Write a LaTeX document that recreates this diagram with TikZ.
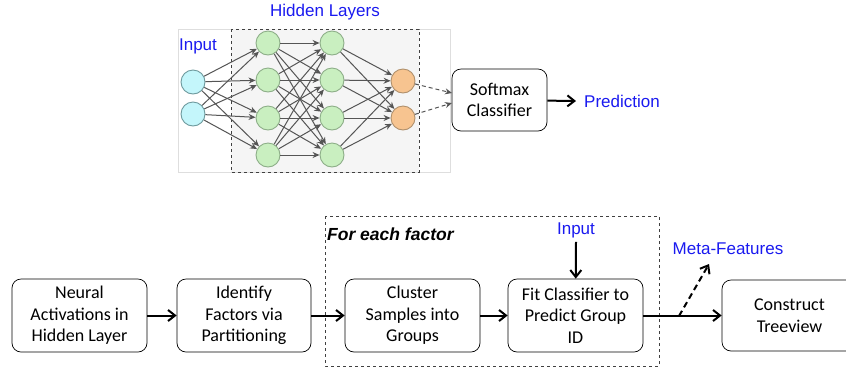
\documentclass[tikz,border=0pt]{standalone}
\usepackage{fontspec}
\setmainfont{Carlito}
\newfontfamily\arialf{Liberation Sans}
\usetikzlibrary{arrows.meta}
\definecolor{lblue}{HTML}{1A1AF0}
\definecolor{cyanf}{HTML}{C4F6FB}
\definecolor{cyand}{HTML}{6E9A9E}
\definecolor{greenf}{HTML}{C9EFC0}
\definecolor{greend}{HTML}{8DAE88}
\definecolor{orangef}{HTML}{F7C490}
\definecolor{oranged}{HTML}{B0906C}
\definecolor{edgec}{HTML}{555555}
\tikzset{
  x=1pt, y=-1pt,
  neuron/.style={circle, minimum size=24pt, inner sep=0pt, line width=0.9pt},
  inneur/.style={neuron, draw=cyand, fill=cyanf},
  hidneur/.style={neuron, draw=greend, fill=greenf},
  outneur/.style={neuron, draw=oranged, fill=orangef},
  nnedge/.style={draw=edgec, line width=1pt, -{Stealth[length=7pt,width=6pt]}},
  nndash/.style={nnedge, dash pattern=on 4pt off 3pt},
  procbox/.style={draw, rounded corners=9pt, line width=0.7pt, align=center,
    font=\fontsize{18}{21.5}\selectfont, inner sep=0pt},
  flow/.style={line width=2pt, -{Straight Barb[length=7pt,width=11pt,line width=2pt]}},
  bluelbl/.style={text=lblue, font=\arialf\fontsize{17}{20}\selectfont, inner sep=0pt},
}
\begin{document}
\begin{tikzpicture}
\useasboundingbox (0,0) rectangle (846,368);
\fill[white] (0,0) rectangle (846,368);
\begin{scope}
\clip (0,0) rectangle (846,368);
% ---- neural net panel
\draw[fill=white, draw=black!13, line width=0.6pt] (178,29) rectangle (450,172);
\draw[fill=black!4, draw=black!75, dashed, line width=0.7pt] (231,29) rectangle (419,172);
\node[inneur] (i1) at (193,82) {};
\node[inneur] (i2) at (193,114) {};
\foreach \j/\y in {1/43,2/80,3/118,4/155}{
  \node[hidneur] (a\j) at (268,\y) {};
  \node[hidneur] (b\j) at (332,\y) {};
}
\node[outneur] (o1) at (403,81) {};
\node[outneur] (o2) at (403,118) {};
\foreach \i in {1,2}{\foreach \j in {1,2,3,4}{\draw[nnedge] (i\i) -- (a\j);}}
\foreach \i in {1,2,3,4}{\foreach \j in {1,2,3,4}{\draw[nnedge] (a\i) -- (b\j);}}
\foreach \i in {1,2,3,4}{\foreach \j in {1,2}{\draw[nnedge] (b\i) -- (o\j);}}
\node[procbox, minimum width=95pt, minimum height=62pt] (soft) at (499.5,100) {Softmax\\Classifier};
\coordinate (s1) at (452,93);
\coordinate (s2) at (452,103);
\draw[nndash] (o1) -- (s1);
\draw[nndash] (o2) -- (s2);
\node[bluelbl, anchor=west] (pred) at (584,101) {Prediction};
\coordinate (predtip) at (576,101);
\draw[flow] (soft) -- (predtip);
\node[bluelbl] (hid) at (325,12) {Hidden Layers};
\node[bluelbl] (inp) at (198,46) {Input};
% ---- bottom pipeline
\draw[dashed, draw=black!75, line width=0.7pt] (325,216) rectangle (659,366);
\node[anchor=west, inner sep=0pt, font=\arialf\bfseries\itshape\fontsize{17.5}{20}\selectfont] (fef) at (327,234) {For each factor};
\node[procbox, minimum width=135pt, minimum height=73pt] (n1) at (79.5,315.5) {Neural\\Activations in\\Hidden Layer};
\node[procbox, minimum width=134pt, minimum height=73pt] (n2) at (244,315.5) {Identify\\Factors via\\Partitioning};
\node[procbox, minimum width=135pt, minimum height=73pt] (n3) at (412.5,315.5) {Cluster\\Samples into\\Groups};
\node[procbox, minimum width=135pt, minimum height=73pt] (n4) at (575.5,315.5) {Fit Classifier to\\Predict Group\\ID};
\node[procbox, minimum width=135pt, minimum height=71pt] (n5) at (789.5,315.5) {Construct\\Treeview};
\draw[flow] (n1) -- (n2);
\draw[flow] (n2) -- (n3);
\draw[flow] (n3) -- (n4);
\draw[flow] (n4) -- (n5);
\node[bluelbl] (inp2) at (576,230) {Input};
\draw[flow] ([yshift=-4pt]inp2.south) -- (n4);
\coordinate (br) at (679,316);
\coordinate (mf) at (709,264);
\draw[flow, dash pattern=on 6pt off 4pt] (br) -- (mf);
\node[bluelbl] (meta) at (728,249) {Meta-Features};
\end{scope}
\end{tikzpicture}
\end{document}
